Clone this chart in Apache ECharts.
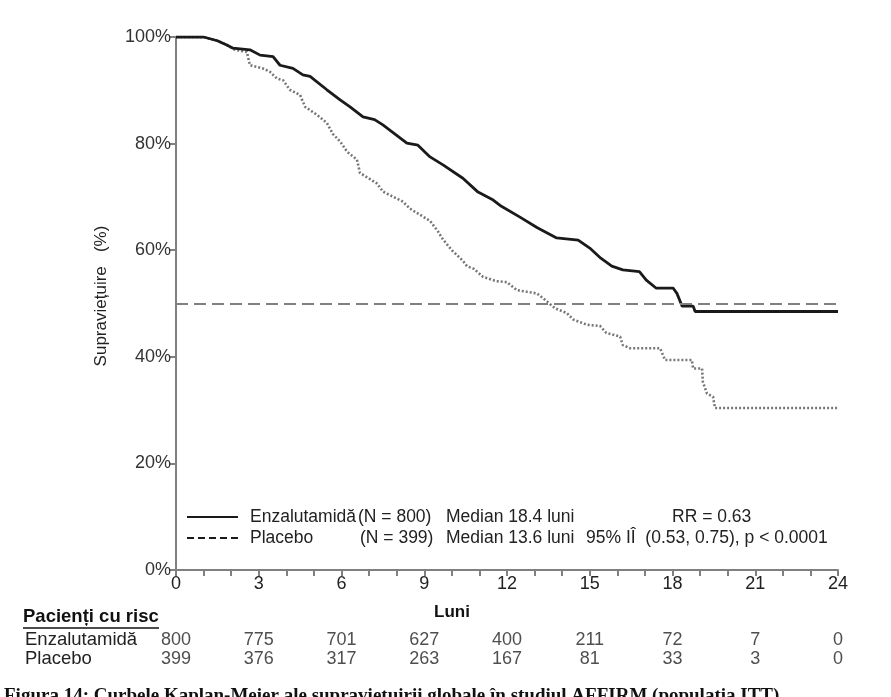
<!DOCTYPE html>
<html>
<head>
<meta charset="utf-8">
<script src="https://cdn.jsdelivr.net/npm/echarts@6/dist/echarts.min.js"></script>
<style>
  html, body { margin: 0; padding: 0; background: #fff; }
  #chart { width: 891px; height: 697px; }
</style>
</head>
<body>
<div id="chart"></div>
<script>
// survival curves: [month, % surviving]
const enzaCurve = [
  [0, 100], [1.0, 100], [1.5, 99.3], [1.84, 98.5], [2.07, 97.9], [2.68, 97.6],
  [3.05, 96.6], [3.52, 96.3], [3.77, 94.7], [4.24, 94.1], [4.6, 92.9], [4.86, 92.6],
  [5.47, 90.1], [5.95, 88.2], [6.31, 86.9], [6.78, 85.0], [7.2, 84.5], [7.5, 83.5],
  [8.37, 80.1], [8.77, 79.7], [9.21, 77.5], [9.68, 76.0], [10.4, 73.5], [10.95, 70.9],
  [11.5, 69.4], [11.75, 68.4], [12.47, 66.2], [13.1, 64.2], [13.8, 62.3], [14.58, 61.9],
  [15.0, 60.4], [15.4, 58.5], [15.8, 57.0], [16.2, 56.3], [16.8, 56.0], [17.05, 54.4],
  [17.4, 52.9], [18.02, 52.9], [18.16, 51.9], [18.35, 49.5], [18.75, 49.5], [18.82, 48.5],
  [24, 48.5]
];
const placeboCurve = [
  [0, 100], [1.0, 100], [1.5, 99.3], [1.84, 98.5], [2.14, 97.6], [2.57, 97.2],
  [2.68, 94.7], [3.15, 94.1], [3.4, 93.5], [3.66, 92.2], [3.88, 91.9], [4.13, 90.1],
  [4.5, 89.1], [4.68, 86.9], [5.11, 85.4], [5.47, 83.9], [5.69, 81.8], [5.95, 80.4],
  [6.2, 78.5], [6.56, 77.0], [6.67, 74.5], [7.29, 72.5], [7.5, 71.0], [8.23, 69.1],
  [8.48, 67.8], [9.21, 65.5], [9.5, 63.5], [9.68, 62.0], [10.0, 60.0], [10.4, 58.0],
  [10.55, 57.0], [10.8, 56.5], [11.13, 55.0], [11.6, 54.2], [12.0, 54.0], [12.36, 52.5],
  [13.08, 51.9], [13.45, 50.4], [13.74, 49.1], [14.17, 48.2], [14.4, 47.0], [14.9, 46.0],
  [15.37, 45.8], [15.6, 44.5], [16.1, 43.8], [16.2, 42.2], [16.46, 41.6], [17.55, 41.6],
  [17.73, 39.4], [18.7, 39.4], [18.75, 37.8], [19.07, 37.8], [19.1, 35.3], [19.25, 33.1],
  [19.47, 32.5], [19.54, 30.4], [24, 30.4]
];

// patients at risk table
const riskMonths = [0, 3, 6, 9, 12, 15, 18, 21, 24];
const riskEnza = [800, 775, 701, 627, 400, 211, 72, 7, 0];
const riskPlacebo = [399, 376, 317, 263, 167, 81, 33, 3, 0];
const riskRows = ['Enzalutamidă', 'Placebo'];

const medianLine = 50;

const axisGrey = '#808080';
const sans = "'Liberation Sans', Arial, sans-serif";

const riskData = [];
riskMonths.forEach((m, i) => {
  riskData.push([m, riskRows[0], riskEnza[i]]);
  riskData.push([m, riskRows[1], riskPlacebo[i]]);
});

const chart = echarts.init(document.getElementById('chart'));

// small helper for the legend / table texts
const txt = (x, y, text, size, extra, weight) => ({
  type: 'text', x, y, rotation: (extra && extra.rot) || 0,
  style: {
    text,
    font: (weight || '') + ' ' + size + 'px ' + sans,
    fill: (extra && extra.fill) || '#222',
    textAlign: (extra && extra.align) || 'left',
    textVerticalAlign: 'middle'
  }
});

const option = {
  backgroundColor: '#fff',
  animation: false,
  grid: [
    { left: 176, right: 53, top: 37, bottom: 127 },
    { left: 176, right: 53, top: 631, height: 38 }
  ],
  xAxis: [
    {
      type: 'value', gridIndex: 0, min: 0, max: 24, interval: 3,
      axisLine: { lineStyle: { color: axisGrey, width: 2 } },
      axisTick: { length: 6, lineStyle: { color: axisGrey, width: 2 } },
      minorTick: { show: true, splitNumber: 3, length: 6, lineStyle: { color: axisGrey, width: 2 } },
      axisLabel: { color: '#222', fontFamily: sans, fontSize: 18, margin: 5 },
      splitLine: { show: false }
    },
    { type: 'value', gridIndex: 1, min: 0, max: 24, show: false }
  ],
  yAxis: [
    {
      type: 'value', gridIndex: 0, min: 0, max: 100, interval: 20,
      axisLine: { show: true, lineStyle: { color: axisGrey, width: 2 } },
      axisTick: { show: true, length: 6, lineStyle: { color: axisGrey, width: 2 } },
      axisLabel: { color: '#333', fontFamily: sans, fontSize: 18, margin: 5, formatter: '{value}%' },
      splitLine: { show: false }
    },
    { type: 'category', gridIndex: 1, data: riskRows, inverse: true, show: false }
  ],
  series: [
    {
      name: 'Enzalutamidă', type: 'line', data: enzaCurve, symbol: 'none',
      lineStyle: { color: '#1a1a1a', width: 2.8 },
      z: 4,
      markLine: {
        silent: true, symbol: 'none', label: { show: false },
        lineStyle: { color: axisGrey, type: [12, 6], width: 2 },
        data: [{ yAxis: medianLine }]
      }
    },
    {
      name: 'Placebo', type: 'line', data: placeboCurve, symbol: 'none',
      lineStyle: { color: '#777', width: 2.6, type: [2, 2] },
      z: 3
    },
    {
      type: 'scatter', xAxisIndex: 1, yAxisIndex: 1, data: riskData,
      symbolSize: 1, itemStyle: { color: 'transparent' }, silent: true,
      label: {
        show: true, position: 'inside', color: '#222', fontFamily: sans, fontSize: 18,
        formatter: p => p.value[2]
      }
    }
  ],
  graphic: [
    txt(101, 296, 'Supraviețuire   (%)', 17, { rot: Math.PI / 2, align: 'center' }),
    txt(452, 612, 'Luni', 17, { align: 'center', fill: '#111' }, 'bold'),
    // legend
    { type: 'line', shape: { x1: 187, y1: 517, x2: 238, y2: 517 }, style: { stroke: '#1a1a1a', lineWidth: 2 } },
    { type: 'line', shape: { x1: 187, y1: 538, x2: 238, y2: 538 }, style: { stroke: '#1a1a1a', lineWidth: 2, lineDash: [7, 4] } },
    txt(250, 517, 'Enzalutamidă', 17.5),
    txt(358, 517, '(N = 800)', 17.5),
    txt(250, 538, 'Placebo', 17.5),
    txt(360, 538, '(N = 399)', 17.5),
    txt(446, 517, 'Median 18.4 luni', 17.5),
    txt(446, 538, 'Median 13.6 luni', 17.5),
    txt(672, 517, 'RR = 0.63', 17.5),
    txt(586, 538, '95% IÎ  (0.53, 0.75), p < 0.0001', 17.5),
    // at-risk table labels
    txt(23, 617, 'Pacienți cu risc', 18.5, { fill: '#111' }, 'bold'),
    { type: 'line', shape: { x1: 23, y1: 628, x2: 159, y2: 628 }, style: { stroke: '#111', lineWidth: 1.5 } },
    txt(25, 640, 'Enzalutamidă', 18.5),
    txt(25, 659, 'Placebo', 18.5),
    // clipped caption at the bottom
    {
      type: 'text', x: 4, y: 687,
      style: { text: 'Figura 14: Curbele Kaplan-Meier ale supravieţuirii globale în studiul AFFIRM (populaţia ITT)', font: 'bold 19px "Liberation Serif", serif', fill: '#111' }
    }
  ]
};

chart.setOption(option);
</script>
</body>
</html>
